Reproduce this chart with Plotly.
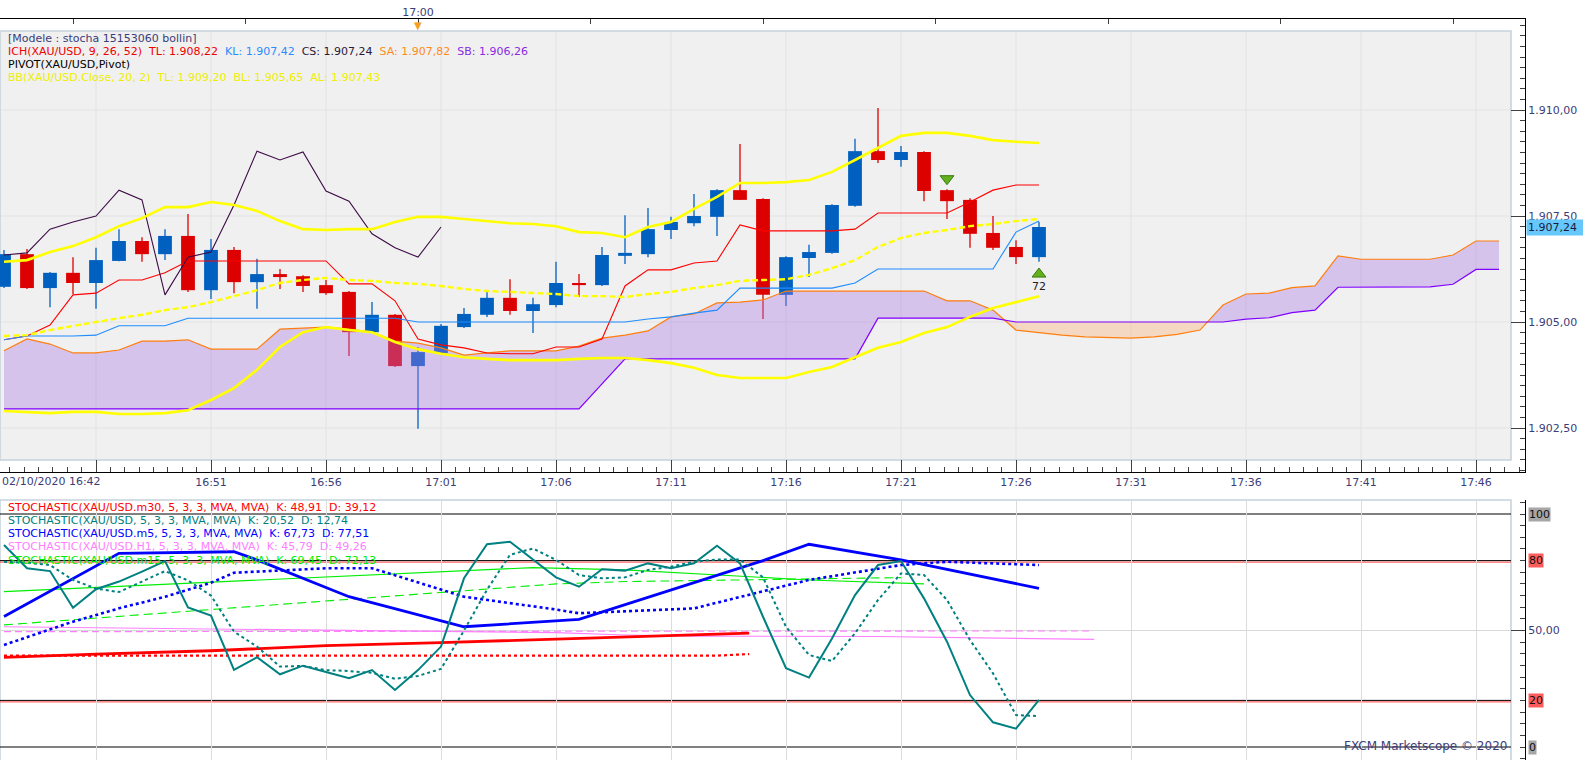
import plotly.graph_objects as go

W, H = 1583, 760
FONT = "Verdana, DejaVu Sans, sans-serif"
TXT = "#3c3c78"
BLUE_C = "#0060c0"
RED_C = "#dd0000"

# one-minute bars, index 0 = 02/10/2020 16:42 ... index 45 = 17:27
OPEN = [1905.83, 1906.60, 1905.80, 1906.16, 1905.92, 1906.44, 1906.91, 1906.60, 1907.03, 1905.75,
        1906.70, 1905.94, 1906.13, 1906.08, 1905.87, 1905.71, 1904.76, 1905.17, 1903.96, 1904.27,
        1904.88, 1905.17, 1905.57, 1905.26, 1905.40, 1905.92, 1905.87, 1906.56, 1906.60, 1907.17,
        1907.33, 1907.48, 1908.11, 1907.90, 1905.64, 1906.51, 1906.63, 1907.74, 1909.03, 1908.82,
        1909.01, 1908.11, 1907.88, 1907.10, 1906.77, 1906.53]
HIGH = [1906.70, 1906.72, 1906.18, 1906.53, 1906.75, 1907.19, 1907.00, 1907.19, 1907.55, 1906.96,
        1906.77, 1906.49, 1906.25, 1906.10, 1905.99, 1905.73, 1905.47, 1905.19, 1904.41, 1904.95,
        1905.33, 1905.71, 1906.01, 1905.57, 1906.42, 1906.13, 1906.77, 1907.52, 1907.69, 1907.48,
        1908.02, 1908.13, 1909.20, 1907.92, 1906.55, 1906.82, 1907.78, 1909.32, 1910.05, 1909.15,
        1909.03, 1908.13, 1907.92, 1907.50, 1906.93, 1907.36]
LOW = [1905.80, 1905.78, 1905.35, 1905.66, 1905.31, 1906.43, 1906.42, 1906.46, 1905.71, 1905.54,
       1905.68, 1905.31, 1905.78, 1905.71, 1905.64, 1904.20, 1904.74, 1903.94, 1902.48, 1904.25,
       1904.86, 1905.12, 1905.17, 1904.74, 1905.35, 1905.59, 1905.85, 1906.37, 1906.53, 1906.96,
       1907.26, 1907.03, 1907.88, 1905.07, 1905.38, 1906.06, 1906.61, 1907.72, 1908.75, 1908.66,
       1907.85, 1907.43, 1906.75, 1906.70, 1906.37, 1906.42]
CLOSE = [1906.60, 1905.80, 1906.16, 1905.92, 1906.46, 1906.91, 1906.60, 1907.03, 1905.75, 1906.70,
         1905.94, 1906.13, 1906.06, 1905.85, 1905.68, 1904.76, 1905.17, 1903.96, 1904.29, 1904.91,
         1905.19, 1905.57, 1905.26, 1905.42, 1905.92, 1905.87, 1906.58, 1906.63, 1907.19, 1907.36,
         1907.50, 1908.11, 1907.88, 1905.64, 1906.53, 1906.65, 1907.76, 1909.03, 1908.82, 1909.01,
         1908.09, 1907.85, 1907.08, 1906.75, 1906.53, 1907.24]

# Ichimoku
TENKAN = [1904.58, 1904.67, 1904.93, 1905.64, 1905.68, 1905.99, 1905.99, 1906.16, 1906.44, 1906.44,
          1906.44, 1906.44, 1906.44, 1906.44, 1906.44, 1905.90, 1905.90, 1905.50, 1904.60, 1904.46,
          1904.39, 1904.27, 1904.25, 1904.25, 1904.41, 1904.41, 1904.60, 1905.85, 1906.23, 1906.23,
          1906.39, 1906.44, 1907.29, 1907.15, 1907.15, 1907.15, 1907.15, 1907.19, 1907.57, 1907.57,
          1907.57, 1907.57, 1907.83, 1908.11, 1908.23, 1908.23]
KIJUN = [1904.58, 1904.67, 1904.67, 1904.67, 1904.69, 1904.91, 1904.91, 1904.91, 1905.09, 1905.09,
         1905.09, 1905.09, 1905.09, 1905.09, 1905.09, 1905.09, 1905.09, 1905.09, 1905.00, 1905.00,
         1905.00, 1905.00, 1905.00, 1905.00, 1905.00, 1905.00, 1905.00, 1905.00, 1905.07, 1905.12,
         1905.21, 1905.28, 1905.80, 1905.80, 1905.80, 1905.80, 1905.80, 1905.92, 1906.25, 1906.25,
         1906.25, 1906.25, 1906.25, 1906.25, 1907.12, 1907.38]
CHIKOU = [1906.58, 1906.63, 1907.19, 1907.36, 1907.50, 1908.11, 1907.88, 1905.64, 1906.53, 1906.65,
          1907.76, 1909.03, 1908.82, 1909.01, 1908.09, 1907.85, 1907.08, 1906.75, 1906.53, 1907.24]
SENKOU_A = [1904.32, 1904.60, 1904.48, 1904.27, 1904.27, 1904.34, 1904.55, 1904.55, 1904.58, 1904.36,
            1904.36, 1904.36, 1904.83, 1904.86, 1904.88, 1904.83, 1904.76, 1904.55, 1904.50, 1904.39,
            1904.22, 1904.27, 1904.32, 1904.32, 1904.32, 1904.43, 1904.62, 1904.69, 1904.79, 1905.12,
            1905.19, 1905.45, 1905.47, 1905.52, 1905.73, 1905.73, 1905.73, 1905.73, 1905.73, 1905.73,
            1905.73, 1905.50, 1905.50, 1905.28, 1904.81, 1904.75, 1904.69, 1904.65, 1904.63, 1904.62,
            1904.65, 1904.71, 1904.81, 1905.40, 1905.66, 1905.68, 1905.81, 1905.85, 1906.56, 1906.48,
            1906.48, 1906.48, 1906.48, 1906.58, 1906.91, 1906.91]
SENKOU_B = [1902.95] * 26 + [1903.54] + [1904.13] * 11 + [1905.09] * 6 + [1905.00] * 10 + \
           [1905.07, 1905.10, 1905.22, 1905.28, 1905.82, 1905.82, 1905.82, 1905.82, 1905.83, 1905.89,
            1906.24, 1906.24]

# Bollinger 20, 2
BB_UP = [1906.42, 1906.46, 1906.65, 1906.79, 1907.00, 1907.26, 1907.45, 1907.71, 1907.71, 1907.83,
         1907.76, 1907.62, 1907.38, 1907.19, 1907.17, 1907.19, 1907.19, 1907.36, 1907.48, 1907.48,
         1907.43, 1907.38, 1907.33, 1907.31, 1907.26, 1907.12, 1907.10, 1907.00, 1907.24, 1907.36,
         1907.67, 1907.95, 1908.28, 1908.28, 1908.30, 1908.35, 1908.54, 1908.82, 1909.10, 1909.39,
         1909.46, 1909.46, 1909.39, 1909.29, 1909.25, 1909.22]
BB_MID = [1904.67, 1904.69, 1904.81, 1904.91, 1905.00, 1905.09, 1905.17, 1905.28, 1905.35, 1905.47,
          1905.61, 1905.75, 1905.92, 1905.99, 1906.04, 1905.99, 1905.97, 1905.92, 1905.90, 1905.85,
          1905.78, 1905.73, 1905.71, 1905.68, 1905.66, 1905.61, 1905.61, 1905.59, 1905.66, 1905.71,
          1905.80, 1905.87, 1905.97, 1905.99, 1906.01, 1906.11, 1906.27, 1906.46, 1906.77, 1906.98,
          1907.10, 1907.17, 1907.26, 1907.31, 1907.38, 1907.43]
BB_LOW = [1902.90, 1902.88, 1902.85, 1902.88, 1902.88, 1902.83, 1902.83, 1902.85, 1902.92, 1903.16,
          1903.44, 1903.87, 1904.41, 1904.76, 1904.88, 1904.81, 1904.76, 1904.53, 1904.36, 1904.25,
          1904.17, 1904.13, 1904.10, 1904.10, 1904.10, 1904.13, 1904.15, 1904.15, 1904.10, 1904.03,
          1903.92, 1903.75, 1903.68, 1903.68, 1903.68, 1903.82, 1903.94, 1904.17, 1904.39, 1904.53,
          1904.74, 1904.88, 1905.12, 1905.33, 1905.47, 1905.61]

# signals
SIG_DOWN_X, SIG_DOWN_Y = [41], [1908.38]
SIG_UP_X, SIG_UP_Y = [45], [1906.13]
SIG_TEXT_Y, SIG_TEXT = [1905.81], ["72"]

# stochastics (lower panel)
TEAL_K = [86.7, 76.7, 75.5, 59.8, 67.7, 71.0, 75.3, 79.8, 59.9, 56.4, 33.1, 38.5, 31.2, 34.9, 32.2,
          29.5, 33.0, 24.5, 33.0, 43.1, 72.4, 87.0, 88.1, 80.5, 72.8, 68.8, 76.3, 75.7, 78.8, 76.7,
          78.8, 86.4, 78.8, 55.9, 33.8, 29.8, 46.6, 65.2, 78.1, 79.8, 63.8, 45.2, 22.3, 10.6, 7.9, 20.2]
TEAL_D = [79.5, 79.1, 78.1, 71.7, 68.0, 66.5, 71.0, 75.5, 71.5, 65.0, 49.5, 43.1, 34.5, 34.8, 33.0,
          32.6, 31.8, 29.3, 30.5, 33.5, 50.0, 67.5, 82.5, 85.2, 80.3, 73.8, 72.4, 72.8, 76.0, 77.4,
          79.5, 80.5, 80.5, 72.8, 51.6, 39.5, 36.9, 48.8, 63.1, 74.5, 73.8, 63.1, 45.9, 31.6, 13.7, 13.3]
M5_K_X = [0, 5, 10, 11, 15, 20, 25, 33, 35, 39, 45]
M5_K = [56.0, 83.1, 83.8, 80.3, 64.5, 51.6, 54.8, 80.0, 87.0, 80.3, 68.1]
M5_D_X = [0, 3, 5, 7, 9, 10, 14, 16, 17, 20, 24, 25, 30, 35, 39, 41, 45]
M5_D = [43.8, 53.8, 59.5, 64.5, 70.5, 74.8, 76.7, 76.7, 73.7, 64.5, 59.0, 57.4, 59.5, 71.7, 78.1, 79.5, 78.1]
M30_K_X = [0, 4, 9, 14, 19, 24, 27, 30, 32.4]
M30_K = [38.5, 39.9, 41.3, 43.5, 44.8, 46.3, 47.4, 48.4, 48.9]
M30_D_X = [0, 31, 32.4]
M30_D = [39.2, 39.2, 39.9]
H1_K_X = [0, 24, 27, 30, 38, 42, 46, 47.4]
H1_K = [51.6, 49.1, 48.1, 47.6, 47.4, 46.9, 46.2, 46.2]
H1_D_X = [0, 24, 47.2]
H1_D = [49.5, 49.5, 49.8]
M15_K_X = [0, 23, 27, 33, 35, 40]
M15_K = [66.7, 77.0, 76.0, 72.8, 71.7, 70.0]
M15_D_X = [0, 24, 27, 33, 39]
M15_D = [52.4, 70.0, 71.0, 72.0, 72.7]
LEVELS = [0, 20, 80, 100]

# axis ticks
X_TICKS = [4, 9, 14, 19, 24, 29, 34, 39, 44, 49, 54, 59, 64]
X_LABELS = ["", "16:51", "16:56", "17:01", "17:06", "17:11", "17:16", "17:21", "17:26",
            "17:31", "17:36", "17:41", "17:46"]
TOP_TICKS = [3, 10.5, 18, 25.5, 33, 40.5, 48, 55.5, 63]
TOP_LABELS = ["", "", "17:00", "", "", "", "", "", ""]
PRICE_GRID = [1902.5, 1905.0, 1907.5, 1910.0]


def px(x):
    return x / W


def py(y):
    return 1 - y / H


def eu(v):
    return f"{v:,.2f}".replace(",", "_").replace(".", ",").replace("_", ".")


bars = list(range(len(CLOSE)))
cloud_x = list(range(len(SENKOU_A)))
is_up = [c >= o for o, c in zip(OPEN, CLOSE)]

fig = go.Figure()

# candle bodies
fig.add_trace(go.Bar(
    x=bars, y=[abs(c - o) for o, c in zip(OPEN, CLOSE)], base=[min(o, c) for o, c in zip(OPEN, CLOSE)],
    width=0.6, marker=dict(color=[BLUE_C if u else RED_C for u in is_up], line=dict(width=0)),
    hoverinfo="skip"))

# wicks
for flag, col in [(True, BLUE_C), (False, RED_C)]:
    wx, wy = [], []
    for i in bars:
        if is_up[i] == flag:
            wx += [i, i, None]
            wy += [LOW[i], HIGH[i], None]
    fig.add_trace(go.Scatter(x=wx, y=wy, mode="lines", line=dict(color=col, width=1.3), hoverinfo="skip"))

# cloud, split where the two spans cross
segs = []
sx, sa, sb = [cloud_x[0]], [SENKOU_A[0]], [SENKOU_B[0]]
sign = SENKOU_A[0] >= SENKOU_B[0]
for i in range(1, len(cloud_x)):
    s = SENKOU_A[i] >= SENKOU_B[i]
    if s != sign:
        d0 = SENKOU_A[i - 1] - SENKOU_B[i - 1]
        d1 = SENKOU_A[i] - SENKOU_B[i]
        t = d0 / (d0 - d1)
        xc = cloud_x[i - 1] + t
        yc = SENKOU_A[i - 1] + t * (SENKOU_A[i] - SENKOU_A[i - 1])
        sx.append(xc); sa.append(yc); sb.append(yc)
        segs.append((sign, sx, sa, sb))
        sx, sa, sb = [xc], [yc], [yc]
        sign = s
    sx.append(cloud_x[i]); sa.append(SENKOU_A[i]); sb.append(SENKOU_B[i])
segs.append((sign, sx, sa, sb))
for sgn, xs, a, b in segs:
    fig.add_trace(go.Scatter(
        x=xs + xs[::-1], y=a + b[::-1], mode="lines", fill="toself", line=dict(width=0),
        fillcolor="rgba(170,120,230,0.38)" if sgn else "rgba(255,175,115,0.36)", hoverinfo="skip"))

fig.add_trace(go.Scatter(x=cloud_x, y=SENKOU_A, mode="lines", line=dict(color="#ff7f0e", width=1.2)))
fig.add_trace(go.Scatter(x=cloud_x, y=SENKOU_B, mode="lines", line=dict(color="#8000ff", width=1.2)))
fig.add_trace(go.Scatter(x=bars, y=TENKAN, mode="lines", line=dict(color="#ff0000", width=1.1)))
fig.add_trace(go.Scatter(x=bars, y=KIJUN, mode="lines", line=dict(color="#1e8cff", width=1.1)))
fig.add_trace(go.Scatter(x=bars[:len(CHIKOU)], y=CHIKOU, mode="lines", line=dict(color="#3d0b45", width=1.1)))

# Bollinger
fig.add_trace(go.Scatter(x=bars, y=BB_UP, mode="lines", line=dict(color="#ffff00", width=2.6)))
fig.add_trace(go.Scatter(x=bars, y=BB_LOW, mode="lines", line=dict(color="#ffff00", width=2.6)))
fig.add_trace(go.Scatter(x=bars, y=BB_MID, mode="lines", line=dict(color="#ffff00", width=2.4, dash="6px,3px")))

# signal arrows
fig.add_trace(go.Scatter(x=SIG_DOWN_X, y=SIG_DOWN_Y, mode="markers",
                         marker=dict(symbol="triangle-down", size=12, color="#62b01e",
                                     line=dict(color="#3a7a10", width=1))))
fig.add_trace(go.Scatter(x=SIG_UP_X, y=SIG_UP_Y, mode="markers",
                         marker=dict(symbol="triangle-up", size=12, color="#62b01e",
                                     line=dict(color="#3a7a10", width=1))))
fig.add_trace(go.Scatter(x=SIG_UP_X, y=SIG_TEXT_Y, mode="text", text=SIG_TEXT,
                         textfont=dict(family=FONT, size=11, color="#202020")))

# keeps the top time axis alive
fig.add_trace(go.Scatter(x=[TOP_TICKS[2]], y=[CLOSE[0]], xaxis="x3", yaxis="y", mode="markers",
                         marker=dict(opacity=0), hoverinfo="skip"))

# lower panel
lower = [
    (H1_D_X, H1_D, "#ff80ff", 1.1, "7px,4px"),
    (H1_K_X, H1_K, "#ff80ff", 1.1, "solid"),
    (M15_D_X, M15_D, "#00ee00", 1.1, "9px,5px"),
    (M15_K_X, M15_K, "#00ee00", 1.1, "solid"),
    (M30_D_X, M30_D, "#ff0000", 2.2, "dot"),
    (M30_K_X, M30_K, "#ff0000", 2.8, "solid"),
    (M5_D_X, M5_D, "#0000ff", 2.6, "dot"),
    (M5_K_X, M5_K, "#0000ff", 2.8, "solid"),
    (bars, TEAL_D, "#008080", 2.0, "dot"),
    (bars, TEAL_K, "#008080", 2.0, "solid"),
]
for xs, ys, col, wd, dash in lower:
    fig.add_trace(go.Scatter(x=xs, y=ys, xaxis="x2", yaxis="y2", mode="lines",
                             line=dict(color=col, width=wd, dash=dash)))

XR = [-4 / 23, (1525 - 4) / 23]
YR = [1910 - (472 - 110) / 42.4, 1910 + (110 - 19) / 42.4]
SR = [(747 - 760) / 2.33, (747 - 500) / 2.33]

shapes = [
    dict(type="rect", xref="paper", yref="paper", x0=0, x1=px(1511), y0=py(460), y1=py(31),
         fillcolor="#f0f0f0", line=dict(width=0), layer="below"),
]
for t in X_TICKS:
    shapes.append(dict(type="line", xref="x", yref="paper", x0=t, x1=t, y0=py(460), y1=py(31),
                       line=dict(color="#e2e2e2", width=1), layer="below"))
for p in PRICE_GRID:
    shapes.append(dict(type="line", xref="paper", yref="y", x0=0, x1=px(1511), y0=p, y1=p,
                       line=dict(color="#e2e2e2", width=1), layer="below"))
shapes += [
    dict(type="rect", xref="paper", yref="paper", x0=px(0), x1=px(1511), y0=py(460), y1=py(31),
         line=dict(color="#c8d2dc", width=1.6), layer="below"),
    dict(type="rect", xref="paper", yref="paper", x0=px(0), x1=px(1511), y0=py(775), y1=py(500),
         line=dict(color="#c8d2dc", width=1.6), layer="below"),
]
for lv in LEVELS:
    if lv in (20, 80):
        shapes.append(dict(type="line", xref="x2 domain", yref="y2", ysizemode="pixel", yanchor=lv,
                           x0=0, x1=1511 / 1525, y0=-1.5, y1=-1.5,
                           line=dict(color="#ff4040", width=1), layer="below"))
    shapes.append(dict(type="line", xref="x2 domain", yref="y2", x0=0, x1=1511 / 1525, y0=lv, y1=lv,
                       line=dict(color="black", width=1), layer="below"))

nb = "\u00a0\u00a0"
ann = []


def note(x, y, text, color, size=11, **kw):
    d = dict(x=x, y=y, xref="paper", yref="paper", text=text, showarrow=False, xanchor="left",
             yanchor="middle", font=dict(family=FONT, size=size, color=color))
    d.update(kw)
    ann.append(d)


note(px(6), py(39), "[Modele : stocha 15153060 bollin]", TXT)
line2 = ("<span style='color:#ee0000'>ICH(XAU/USD, 9, 26, 52)" + nb + "TL: 1.908,22</span>" + nb +
         "<span style='color:#2a8cff'>KL: 1.907,42</span>" + nb +
         "<span style='color:#2a1a3a'>CS: 1.907,24</span>" + nb +
         "<span style='color:#ff8c1a'>SA: 1.907,82</span>" + nb +
         "<span style='color:#8a2be2'>SB: 1.906,26</span>")
note(px(6), py(52), line2, "#ee0000")
note(px(6), py(65), "PIVOT(XAU/USD,Pivot)", "#000000")
note(px(6), py(78), "BB(XAU/USD.Close, 20, 2)" + nb + "TL: 1.909,20" + nb + "BL: 1.905,65" + nb +
     "AL: 1.907,43", "#eeee00")

sto_legend = [
    ("STOCHASTIC(XAU/USD.m30, 5, 3, 3, MVA, MVA)" + nb + "K: 48,91" + nb + "D: 39,12", "#ff0000"),
    ("STOCHASTIC(XAU/USD, 5, 3, 3, MVA, MVA)" + nb + "K: 20,52" + nb + "D: 12,74", "#008080"),
    ("STOCHASTIC(XAU/USD.m5, 5, 3, 3, MVA, MVA)" + nb + "K: 67,73" + nb + "D: 77,51", "#0000ff"),
    ("STOCHASTIC(XAU/USD.H1, 5, 3, 3, MVA, MVA)" + nb + "K: 45,79" + nb + "D: 49,26", "#ff80ff"),
    ("STOCHASTIC(XAU/USD.m15, 5, 3, 3, MVA, MVA)" + nb + "K: 69,45" + nb + "D: 72,13", "#00ee00"),
]
for k, (t, c) in enumerate(sto_legend):
    note(px(6), py(507 + 13.3 * k), t, c)

note(px(0), py(481), "02/10/2020 16:42", TXT)
note(px(1509), py(746), "FXCM Marketscope © 2020", TXT, size=12, xanchor="right")

# current price box
ann.append(dict(x=px(1526), y=CLOSE[-1], xref="paper", yref="y", text=eu(CLOSE[-1]), showarrow=False,
                xanchor="left", yanchor="middle", bgcolor="#66c8fa", width=55, align="left",
                borderpad=1, font=dict(family=FONT, size=11, color="#1a1a40")))
# level boxes
for lv, bg in [(100, "#a6a6a6"), (80, "#ff5c5c"), (20, "#ff5c5c"), (0, "#a6a6a6")]:
    ann.append(dict(x=px(1528), y=lv, xref="paper", yref="y2", text=str(lv), showarrow=False,
                    xanchor="left", yanchor="middle", bgcolor=bg, borderpad=0,
                    font=dict(family=FONT, size=11, color="#101010")))
# 17:00 marker
ann.append(dict(x=TOP_TICKS[2], y=py(18), xref="x", yref="paper", text="▼", showarrow=False,
                xanchor="center", yanchor="top", font=dict(family=FONT, size=10, color="#f5a020")))

fig.update_layout(
    width=W, height=H, margin=dict(l=0, r=0, t=0, b=0),
    paper_bgcolor="white", plot_bgcolor="white", separators=",.", showlegend=False,
    font=dict(family=FONT, size=11, color=TXT),
    shapes=shapes, annotations=ann,
    xaxis=dict(domain=[0, px(1525)], range=XR, anchor="y", tickmode="array", tickvals=X_TICKS,
               ticktext=X_LABELS, ticks="inside", ticklen=12, tickcolor="#404040", showline=True,
               linecolor="black", linewidth=1, mirror=True, showgrid=False,
               zeroline=False, tickfont=dict(family=FONT, size=11, color=TXT),
               minor=dict(tickmode="linear", tick0=X_TICKS[0], dtick=0.625, ticks="inside", ticklen=5,
                          tickcolor="#404040", showgrid=False)),
    yaxis=dict(domain=[py(472), py(19)], range=YR, anchor="x", side="right", tickmode="linear",
               tick0=1900, dtick=2.5, tickformat=",.2f", ticks="inside", ticklen=14,
               tickcolor="#404040", showline=True, linecolor="black", linewidth=1, mirror=True,
               showgrid=False, zeroline=False,
               tickfont=dict(family=FONT, size=11, color=TXT),
               minor=dict(tickmode="linear", tick0=1900, dtick=0.25, ticks="inside", ticklen=5,
                          tickcolor="#404040", showgrid=False)),
    xaxis3=dict(overlaying="x", anchor="y", side="top", range=XR, tickmode="array",
                tickvals=TOP_TICKS, ticktext=TOP_LABELS, ticks="inside", ticklen=5,
                tickcolor="#404040", showgrid=False, showline=False, zeroline=False,
                tickfont=dict(family=FONT, size=11, color=TXT)),
    xaxis2=dict(domain=[0, px(1525)], range=XR, anchor="y2", tickmode="array", tickvals=X_TICKS,
                showticklabels=False, ticks="", showgrid=True, gridcolor="#dcdcdc", zeroline=False,
                showline=False),
    yaxis2=dict(domain=[0, py(500)], range=SR, anchor="x2", side="right", tickmode="array",
                tickvals=[50], tickformat=".2f", ticks="inside", ticklen=14, tickcolor="#404040",
                showgrid=True, gridcolor="#d9d9d9", showline=True, linecolor="black", linewidth=1,
                mirror=True, zeroline=False, tickfont=dict(family=FONT, size=11, color=TXT),
                minor=dict(tickmode="linear", tick0=0, dtick=5, ticks="inside", ticklen=5,
                           tickcolor="#404040", showgrid=False)),
)

# the page body has a default 8px margin; drop it so the figure sits at the window origin
fig.write_html("out.html", config={"displayModeBar": False},
               post_script="document.body.style.margin='0';")
